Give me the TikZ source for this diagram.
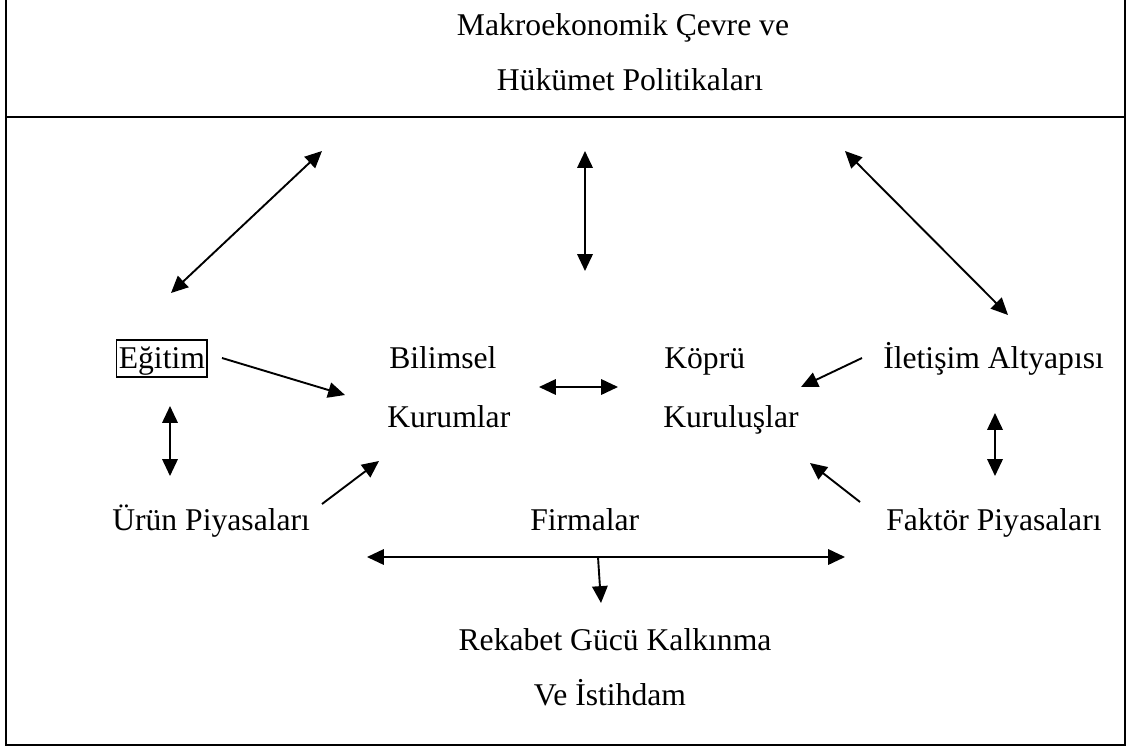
\documentclass[tikz,border=0pt]{standalone}
\usepackage{fontspec}
\setmainfont{Liberation Serif}
\usetikzlibrary{arrows.meta, positioning}
\tikzset{
  lbl/.style={anchor=base west, inner sep=0pt, font=\fontsize{22.5}{27}\selectfont},
  link/.style={line width=1.35pt, -{Triangle[length=12pt, width=11pt]}},
  dlink/.style={line width=1.35pt,
    {Triangle[length=12pt, width=11pt]}-{Triangle[length=12pt, width=11pt]}},
}

\begin{document}
\begin{tikzpicture}[x=0.025cm, y=-0.025cm]
  \useasboundingbox (0,0) rectangle (1130,749);
  % frame and the top band
  \draw[line width=1.5pt] (6,-6) rectangle (1125,745);
  \draw[line width=1.5pt] (6,117) -- (1125,117);
  \node[lbl, anchor=base] (makro) at (623,36) {Makroekonomik Çevre ve};
  \node[lbl, anchor=base] (hukumet) at (630,91) {Hükümet Politikaları};

  % labels
  \node[lbl, draw, line width=1pt, inner xsep=1.5pt, inner ysep=0.5pt,
        text height=19.4pt, text depth=5.9pt] (egitim) at (116,368) {Eğitim\hspace{5pt}};
  \node[lbl] (bilimsel) at (389,368) {Bilimsel};
  \node[lbl] (kurumlar) at (387,427) {Kurumlar};
  \node[lbl] (kopru) at (664,368) {Köprü};
  \node[lbl] (kurulus) at (663,427) {Kuruluşlar};
  \node[lbl] (iletisim) at (883,368) {İletişim Altyapısı};
  \node[lbl] (urun) at (112,530) {Ürün Piyasaları};
  \node[lbl] (firmalar) at (530,530) {Firmalar};
  \node[lbl] (faktor) at (886,530) {Faktör Piyasaları};
  \node[lbl, anchor=base] (rekabet) at (615,650) {Rekabet Gücü Kalkınma};
  \node[lbl, anchor=base] (istihdam) at (610,705) {Ve İstihdam};

  % ends of the links
  \coordinate (ul) at (171,293);   \coordinate (ult) at (322,151);
  \coordinate (um) at (585,271);   \coordinate (umt) at (585,151);
  \coordinate (ur) at (1008,315);  \coordinate (urt) at (845,151);
  \coordinate (e1) at (222,358);   \coordinate (e2) at (345,395);
  \coordinate (v1) at (170,406);   \coordinate (v2) at (170,476);
  \coordinate (p1) at (322,504);   \coordinate (p2) at (379,461);
  \coordinate (h1) at (539,387);   \coordinate (h2) at (618,387);
  \coordinate (i1) at (862,358);   \coordinate (i2) at (801,387);
  \coordinate (w1) at (995,413);   \coordinate (w2) at (995,476);
  \coordinate (f1) at (860,502);   \coordinate (f2) at (810,463);
  \coordinate (b1) at (367,557);   \coordinate (b2) at (845,557);
  \coordinate (d1) at (598,557);   \coordinate (d2) at (601,603);

  \draw[dlink] (ul) -- (ult);
  \draw[dlink] (um) -- (umt);
  \draw[dlink] (ur) -- (urt);
  \draw[link] (e1) -- (e2);
  \draw[dlink] (v1) -- (v2);
  \draw[link] (p1) -- (p2);
  \draw[dlink] (h1) -- (h2);
  \draw[link] (i1) -- (i2);
  \draw[dlink] (w1) -- (w2);
  \draw[link] (f1) -- (f2);
  \draw[dlink] (b1) -- (b2);
  \draw[link] (d1) -- (d2);
\end{tikzpicture}
\end{document}
